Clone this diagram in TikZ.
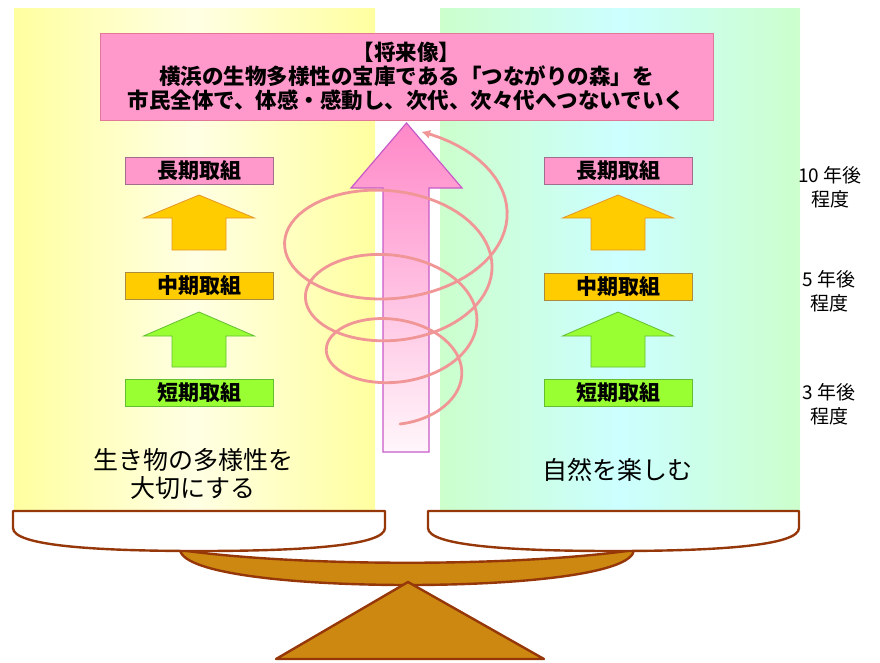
\documentclass[tikz,border=0pt]{standalone}
\usepackage{fontspec}
\newfontfamily\jp{Noto Sans CJK JP}
\usetikzlibrary{arrows.meta}
\definecolor{yEdge}{RGB}{255,255,160}
\definecolor{yMid}{RGB}{255,255,228}
\definecolor{gEdge}{RGB}{204,255,204}
\definecolor{cMid}{RGB}{204,255,255}
\definecolor{pinkF}{RGB}{255,153,204}
\definecolor{pinkB}{RGB}{225,120,150}
\definecolor{pinkSB}{RGB}{160,110,140}
\definecolor{orangeF}{RGB}{255,204,0}
\definecolor{orangeB}{RGB}{230,150,40}
\definecolor{orangeSB}{RGB}{170,140,60}
\definecolor{greenF}{RGB}{153,255,51}
\definecolor{greenB}{RGB}{100,190,50}
\definecolor{spiralC}{RGB}{240,150,150}
\definecolor{arrTop}{RGB}{255,136,200}
\definecolor{arrMid}{RGB}{255,200,228}
\definecolor{arrBot}{RGB}{255,246,250}
\definecolor{arrB}{RGB}{200,90,200}
\definecolor{brownL}{RGB}{150,55,10}
\definecolor{brownF}{RGB}{204,136,17}
\begin{document}
\begin{tikzpicture}[x=1pt,y=-1pt,
  stagebox/.style={draw, line width=0.8pt, minimum width=148pt, minimum height=27pt, inner sep=0pt, font=\jp\bfseries\fontsize{21}{24}\selectfont},
  orangearr/.style={fill=orangeF, draw=orangeB, line width=0.8pt},
  greenarr/.style={fill=greenF, draw=greenB, line width=0.8pt},
  pan/.style={fill=white, draw=brownL, line width=2.4pt, line join=round},
  brownshape/.style={fill=brownF, draw=brownL, line width=2.4pt, line join=round},
  sidelabel/.style={align=center, inner sep=0pt, font=\jp\fontsize{19}{24}\selectfont},
  biglabel/.style={align=center, inner sep=0pt, font=\jp\fontsize{25}{28}\selectfont},
  spiralst/.style={draw=spiralC, line width=2.8pt, line cap=round, line join=round}
]
\useasboundingbox (0,0) rectangle (880,662);
% panels
\shade[left color=yEdge, right color=yEdge, middle color=yMid] (14,8) rectangle (375,510);
\shade[left color=gEdge, right color=gEdge, middle color=cMid] (440,8) rectangle (800,510);
% top box
\node[draw=pinkB, fill=pinkF, line width=1pt, minimum width=613pt, minimum height=87pt, inner sep=0pt, align=center,
  font=\jp\bfseries\fontsize{21.5}{24}\selectfont] (goal) at (406.5,76.5)
  {【将来像】\\横浜の生物多様性の宝庫である「つながりの森」を\\市民全体で、体感・感動し、次代、次々代へつないでいく};
% stage boxes
\node[stagebox, fill=pinkF, draw=pinkSB] (longL) at (199,170.5) {長期取組};
\node[stagebox, fill=orangeF, draw=orangeSB] (midL) at (199,286) {中期取組};
\node[stagebox, fill=greenF, draw=greenB] (shortL) at (199,392.5) {短期取組};
\node[stagebox, fill=pinkF, draw=pinkSB] (longR) at (618,170.5) {長期取組};
\node[stagebox, fill=orangeF, draw=orangeSB] (midR) at (618,287) {中期取組};
\node[stagebox, fill=greenF, draw=greenB] (shortR) at (618,392.5) {短期取組};
% block arrows
\foreach \cx in {199,618}{
  \filldraw[orangearr] (\cx,195) -- ++(55.5,23) -- ++(-28.5,0) -- ++(0,32) -- ++(-54,0) -- ++(0,-32) -- ++(-28.5,0) -- cycle;
  \filldraw[greenarr] (\cx,312) -- ++(55.5,24) -- ++(-28.5,0) -- ++(0,31) -- ++(-54,0) -- ++(0,-31) -- ++(-28.5,0) -- cycle;
}
% central arrow
\shade[top color=arrTop, middle color=arrMid, bottom color=arrBot]
  (406.5,123) -- (462,188) -- (429,188) -- (429,452) -- (383,452) -- (383,188) -- (351,188) -- cycle;
\draw[arrB, line width=1.2pt, line join=miter]
  (406.5,123) -- (462,188) -- (429,188) -- (429,452) -- (383,452) -- (383,188) -- (351,188) -- cycle;
% spiral
\draw[spiralst, -{Latex[length=9pt,width=9pt]}] plot[domain=0:1245, samples=260]
  ({400-0.008*\x+(58+0.05*\x)*sin(\x)},{388-0.1475*\x+(36+0.0315*\x)*cos(\x)});
% labels
\node[biglabel] (bioL) at (193,474) {生き物の多様性を\\大切にする};
\node[biglabel] (natR) at (617,470) {自然を楽しむ};
\node[sidelabel] (y10) at (830,187) {10 年後\\程度};
\node[sidelabel] (y5) at (829,291.5) {5 年後\\程度};
\node[sidelabel] (y3) at (829,404) {3 年後\\程度};
% balance beam
\path[brownshape] (180,550) .. controls (300,567) and (515,567) .. (634,550)
  .. controls (632,574) and (520,585) .. (408,585)
  .. controls (296,585) and (184,574) .. (180,550) -- cycle;
% pans
\path[pan] (13,511) -- (385,511) -- (385,528) .. controls (385,546) and (300,551) .. (199,551)
  .. controls (98,551) and (13,546) .. (13,528) -- cycle;
\path[pan] (428,511) -- (799,511) -- (799,528) .. controls (799,546) and (714,551) .. (613.5,551)
  .. controls (513,551) and (428,546) .. (428,528) -- cycle;
% fulcrum
\path[brownshape] (408,582) -- (544,659) -- (276,659) -- cycle;
\end{tikzpicture}
\end{document}
